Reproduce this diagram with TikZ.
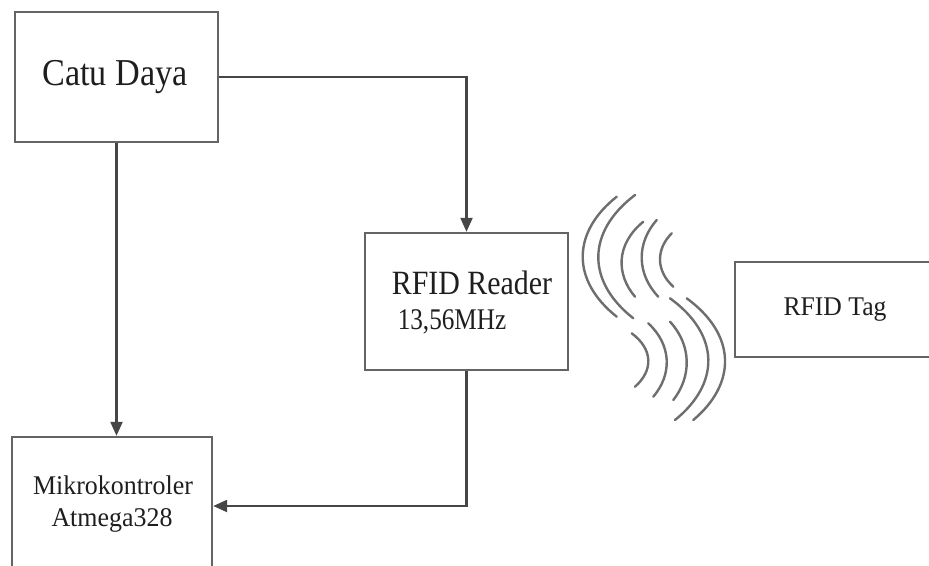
\documentclass[tikz,border=0pt]{standalone}
\usepackage{fontspec}
\setmainfont{Liberation Serif}
\usetikzlibrary{arrows.meta,calc}

\definecolor{edgegray}{RGB}{100,100,100}
\definecolor{linkgray}{RGB}{70,70,70}
\definecolor{wavegray}{RGB}{110,110,110}
\definecolor{inkgray}{RGB}{30,30,30}

\tikzset{
  block/.style={draw=edgegray, line width=2.4pt, rectangle, inner sep=0pt},
  link/.style={draw=linkgray, line width=2.2pt, -{Triangle[length=14pt,width=12pt]}},
  label/.style={text=inkgray, anchor=base, inner sep=0pt},
  wave/.style={draw=wavegray, line width=2.4pt, line cap=round}
}

% one radio arc: from top end #1 through extreme point #2 to bottom end #3
\newcommand{\radioarc}[3]{%
  \draw[wave] let \p1=(#1), \p2=(#2), \p3=(#3) in
    (\p1) .. controls ({(8*\x2-\x1-\x3)/6}, {\y1+0.3*(\y3-\y1)})
           and ({(8*\x2-\x1-\x3)/6}, {\y3-0.3*(\y3-\y1)}) .. (\p3);}

\begin{document}
\begin{tikzpicture}[x=1pt, y=-1pt]
  \clip (0,0) rectangle (929,565);
  \fill[white] (0,0) rectangle (929,565);

  % blocks
  \node[block, minimum width=203pt, minimum height=130pt] (cd)  at (116.5,77)  {};
  \node[block, minimum width=203pt, minimum height=137pt] (rr)  at (466.5,301.5) {};
  \node[block, minimum width=200pt, minimum height=138pt] (mk)  at (112,506)  {};
  \node[block, minimum width=197pt, minimum height=95pt]  (tag) at (833.5,309.5) {};

  % texts
  \node[label, font=\fontsize{38}{38}\selectfont] (tcd) at (115,85)
       {\scalebox{0.9}[1]{Catu Daya}};
  \node[label, font=\fontsize{34}{34}\selectfont] (trr1) at (472,294)
       {\scalebox{0.88}[1]{RFID Reader}};
  \node[label, font=\fontsize{30}{30}\selectfont] (trr2) at (452,329)
       {\scalebox{0.84}[1]{13,56MHz}};
  \node[label, font=\fontsize{27}{27}\selectfont] (tmk1) at (113,494)
       {\scalebox{0.96}[1]{Mikrokontroler}};
  \node[label, font=\fontsize{27}{27}\selectfont] (tmk2) at (112,526)
       {\scalebox{0.96}[1]{Atmega328}};
  \node[label, font=\fontsize{27}{27}\selectfont] (ttag) at (835,315)
       {\scalebox{0.95}[1]{RFID Tag}};

  % connectors
  \draw[link] (cd.east) -| (rr.north);
  \draw[link] (cd.south) -- (cd.south |- mk.north);
  \draw[link] (rr.south) |- (mk.east);

  % radio waves, reader side
  \coordinate (u1t) at (616.7,196.7); \coordinate (u1e) at (582.7,256.7); \coordinate (u1b) at (616.7,316.7);
  \coordinate (u2t) at (635,195);     \coordinate (u2e) at (598.3,263.3); \coordinate (u2b) at (633.3,318.3);
  \coordinate (u3t) at (643.3,221.7); \coordinate (u3e) at (621.7,258.3); \coordinate (u3b) at (635,296.7);
  \coordinate (u4t) at (656.7,220);   \coordinate (u4e) at (641.7,258.3); \coordinate (u4b) at (658.3,296.7);
  \coordinate (u5t) at (671.7,233.3); \coordinate (u5e) at (660,258.3);   \coordinate (u5b) at (673.3,286.7);
  \radioarc{u1t}{u1e}{u1b}
  \radioarc{u2t}{u2e}{u2b}
  \radioarc{u3t}{u3e}{u3b}
  \radioarc{u4t}{u4e}{u4b}
  \radioarc{u5t}{u5e}{u5b}

  % radio waves, tag side
  \coordinate (l1t) at (631.7,333.3); \coordinate (l1e) at (648.3,360);   \coordinate (l1b) at (635,386.7);
  \coordinate (l2t) at (648.3,323.3); \coordinate (l2e) at (666.7,360);   \coordinate (l2b) at (653.3,396.7);
  \coordinate (l3t) at (670,321.7);   \coordinate (l3e) at (686.7,360);   \coordinate (l3b) at (673.3,400);
  \coordinate (l4t) at (670,298.3);   \coordinate (l4e) at (708.3,353.3); \coordinate (l4b) at (675,420);
  \coordinate (l5t) at (686.7,298.3); \coordinate (l5e) at (725,353.3);   \coordinate (l5b) at (693.3,420);
  \radioarc{l1t}{l1e}{l1b}
  \radioarc{l2t}{l2e}{l2b}
  \radioarc{l3t}{l3e}{l3b}
  \radioarc{l4t}{l4e}{l4b}
  \radioarc{l5t}{l5e}{l5b}
\end{tikzpicture}
\end{document}
